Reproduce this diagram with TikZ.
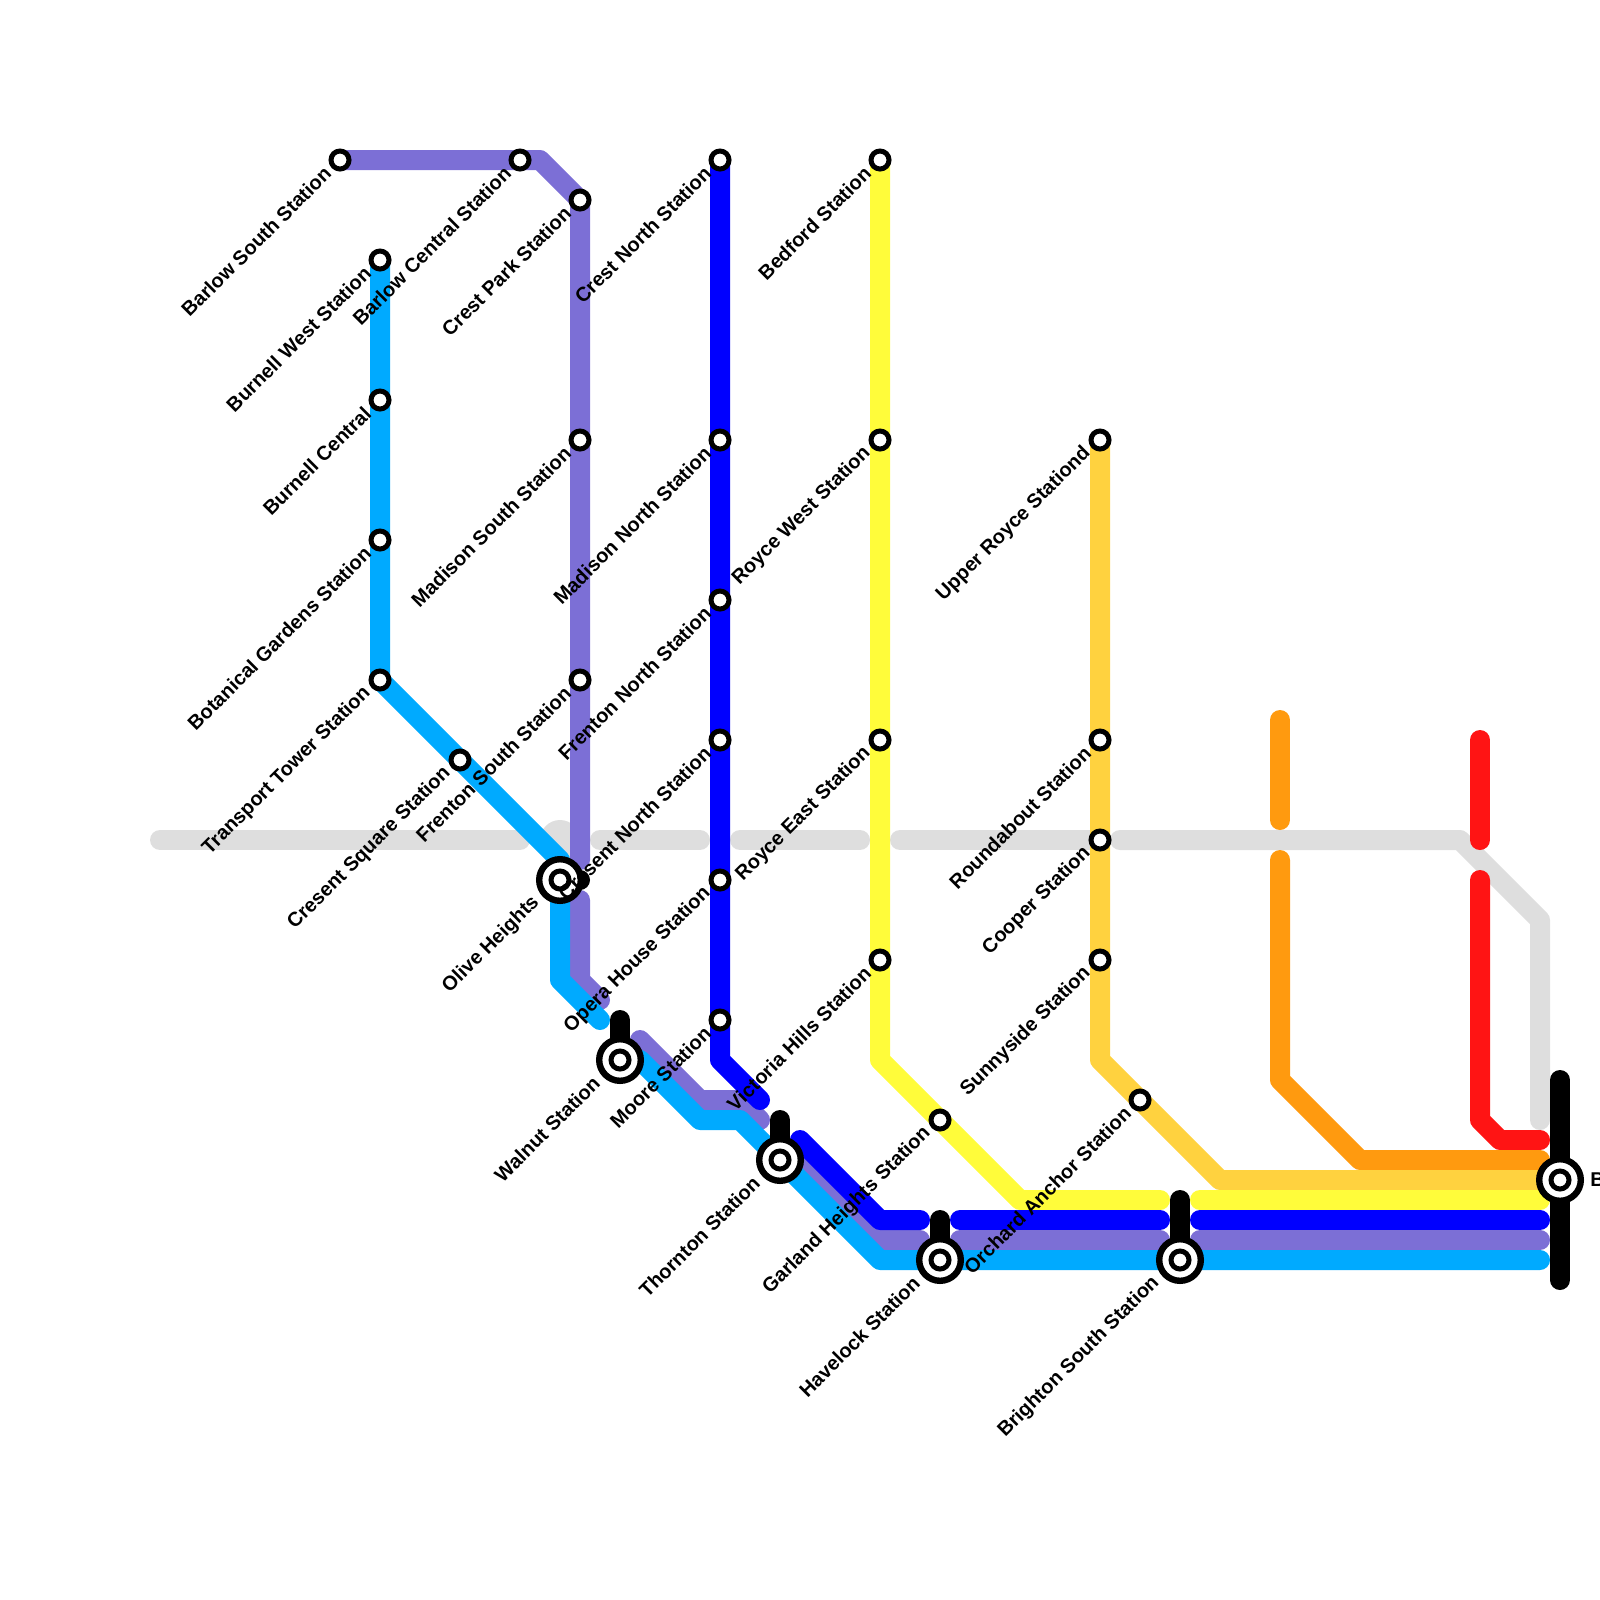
\documentclass[tikz,border=0pt]{standalone}
\usepackage{fontspec}
\setmainfont{Liberation Sans}
\usepackage{tikz}
\usetikzlibrary{calc,backgrounds}

\definecolor{lineblue}{HTML}{00AAFF}
\definecolor{linepurple}{HTML}{7C6FD6}
\definecolor{linedeep}{HTML}{0000FF}
\definecolor{lineyellow}{HTML}{FFFC3A}
\definecolor{linegold}{HTML}{FFD23F}
\definecolor{lineorange}{HTML}{FF9A0F}
\definecolor{linered}{HTML}{FF1414}
\definecolor{linegrey}{HTML}{DEDEDE}

\pgfdeclarelayer{stnlabels}
\pgfsetlayers{background,main,stnlabels}

\tikzset{
  route/.style={line width=0.5cm,line cap=round,line join=round},
  stnode/.style={circle,draw=black,fill=white,line width=1.25mm,minimum size=0.45cm,inner sep=0pt},
  ichange/.style={circle,draw=black,fill=white,line width=1.6mm,minimum size=1.04cm,inner sep=0pt},
  stnlabel/.style={font=\bfseries\fontsize{14.2}{16}\selectfont,rotate=45,anchor=east,inner sep=0pt}
}
% small stop
\newcommand{\stn}[3]{%
  \node[stnode] (#1) at (#2) {};
  \begin{pgfonlayer}{stnlabels}
    \node[stnlabel] (#1-l) at ($(#1)+(-0.62,0.5)$) {#3};
  \end{pgfonlayer}}
% interchange stop
\newcommand{\ichg}[3]{%
  \node[ichange] (#1-o) at (#2) {};
  \node[stnode] (#1) at (#2) {};
  \begin{pgfonlayer}{stnlabels}
    \node[stnlabel] (#1-l) at ($(#1)+(-1.18,0.98)$) {#3};
  \end{pgfonlayer}}

\begin{document}
\begin{tikzpicture}[x=0.5cm,y=-0.5cm]
  \useasboundingbox (0,0) rectangle (80,80);

  % stops
  \stn{barlowS}{17,8}{Barlow South Station}
  \stn{barlowC}{26,8}{Barlow Central Station}
  \stn{crestP}{29,10}{Crest Park Station}
  \stn{madisonS}{29,22}{Madison South Station}
  \stn{frentonS}{29,34}{Frenton South Station}
  \stn{burnellW}{19,13}{Burnell West Station}
  \stn{burnellC}{19,20}{Burnell Central}
  \stn{botanical}{19,27}{Botanical Gardens Station}
  \stn{transport}{19,34}{Transport Tower Station}
  \stn{cresentS}{23,38}{Cresent Square Station}
  \stn{crestN}{36,8}{Crest North Station}
  \stn{madisonN}{36,22}{Madison North Station}
  \stn{frentonN}{36,30}{Frenton North Station}
  \stn{cresentN}{36,37}{Cresent North Station}
  \stn{opera}{36,44}{Opera House Station}
  \stn{moore}{36,51}{Moore Station}
  \stn{bedford}{44,8}{Bedford Station}
  \stn{royceW}{44,22}{Royce West Station}
  \stn{royceE}{44,37}{Royce East Station}
  \stn{victoria}{44,48}{Victoria Hills Station}
  \stn{garland}{47,56}{Garland Heights Station}
  \stn{upperR}{55,22}{Upper Royce Stationd}
  \stn{roundabout}{55,37}{Roundabout Station}
  \stn{cooper}{55,42}{Cooper Station}
  \stn{sunnyside}{55,48}{Sunnyside Station}
  \stn{orchard}{57,55}{Orchard Anchor Station}
  \ichg{olive}{28,44}{Olive Heights}
  \ichg{walnut}{31,53}{Walnut Station}
  \ichg{thornton}{39,58}{Thornton Station}
  \ichg{havelock}{47,63}{Havelock Station}
  \ichg{brightonS}{59,63}{Brighton South Station}
  \node[ichange] (terminus-o) at (78,59) {};
  \node[stnode] (terminus) at (78,59) {};
  \node[font=\bfseries\fontsize{14.2}{16}\selectfont,anchor=west,inner sep=0pt] (terminus-l) at (79.5,59) {B};

  \begin{pgfonlayer}{background}
    % grey line
    \draw[route,linegrey] (8,42) -- (26,42);
    \fill[linegrey] (28,42) circle (1);
    \draw[route,linegrey] (30,42) -- (35,42);
    \draw[route,linegrey] (37,42) -- (43,42);
    \draw[route,linegrey] (45,42) -- (cooper.center);
    \draw[route,linegrey] (56,42) -- (73,42) -- (77,46) -- (77,56);
    % red
    \draw[route,linered] (74,37) -- (74,42);
    \draw[route,linered] (74,44) -- (74,56) -- (75,57) -- (77,57);
    % orange
    \draw[route,lineorange] (64,36) -- (64,41);
    \draw[route,lineorange] (64,43) -- (64,54) -- (68,58) -- (77,58);
    % gold
    \draw[route,linegold] (upperR.center) -- (roundabout.center) -- (cooper.center)
      -- (sunnyside.center) -- (55,53) -- (61,59) -- (77,59);
    % yellow
    \draw[route,lineyellow] (bedford.center) -- (royceW.center) -- (royceE.center)
      -- (victoria.center) -- (44,53) -- (51,60) -- (58,60);
    \draw[route,lineyellow] (60,60) -- (77,60);
    % purple
    \draw[route,linepurple] (barlowS.center) -- (barlowC.center) -- (27,8) -- (crestP.center)
      -- (madisonS.center) -- (frentonS.center) -- (29,43);
    \draw[route,linepurple] (29,45) -- (29,49) -- (30,50);
    \draw[route,linepurple] (32,52) -- (35,55) -- (37,55) -- (38,56);
    \draw[route,linepurple] (40,58) -- (44,62) -- (46,62);
    \draw[route,linepurple] (48,62) -- (58,62);
    \draw[route,linepurple] (60,62) -- (77,62);
    % light blue
    \draw[route,lineblue] (burnellW.center) -- (burnellC.center) -- (botanical.center)
      -- (transport.center) -- (28,43) -- (olive.center) -- (28,49) -- (30,51);
    \draw[route,lineblue] (walnut.center) -- (32,53) -- (35,56) -- (37,56) -- (thornton.center)
      -- (44,63) -- (havelock.center) -- (brightonS.center) -- (77,63);
    % deep blue
    \draw[route,linedeep] (crestN.center) -- (madisonN.center) -- (frentonN.center)
      -- (cresentN.center) -- (opera.center) -- (moore.center) -- (36,53) -- (38,55);
    \draw[route,linedeep] (40,57) -- (44,61) -- (46,61);
    \draw[route,linedeep] (48,61) -- (58,61);
    \draw[route,linedeep] (60,61) -- (77,61);
    % black stubs
    \draw[route,black] (olive.center) -- (29,44);
    \draw[route,black] (walnut.center) -- (31,51);
    \draw[route,black] (thornton.center) -- (39,56);
    \draw[route,black] (havelock.center) -- (47,61);
    \draw[route,black] (brightonS.center) -- (59,60);
    \draw[route,black] (78,54) -- (78,64);
  \end{pgfonlayer}
\end{tikzpicture}
\end{document}
